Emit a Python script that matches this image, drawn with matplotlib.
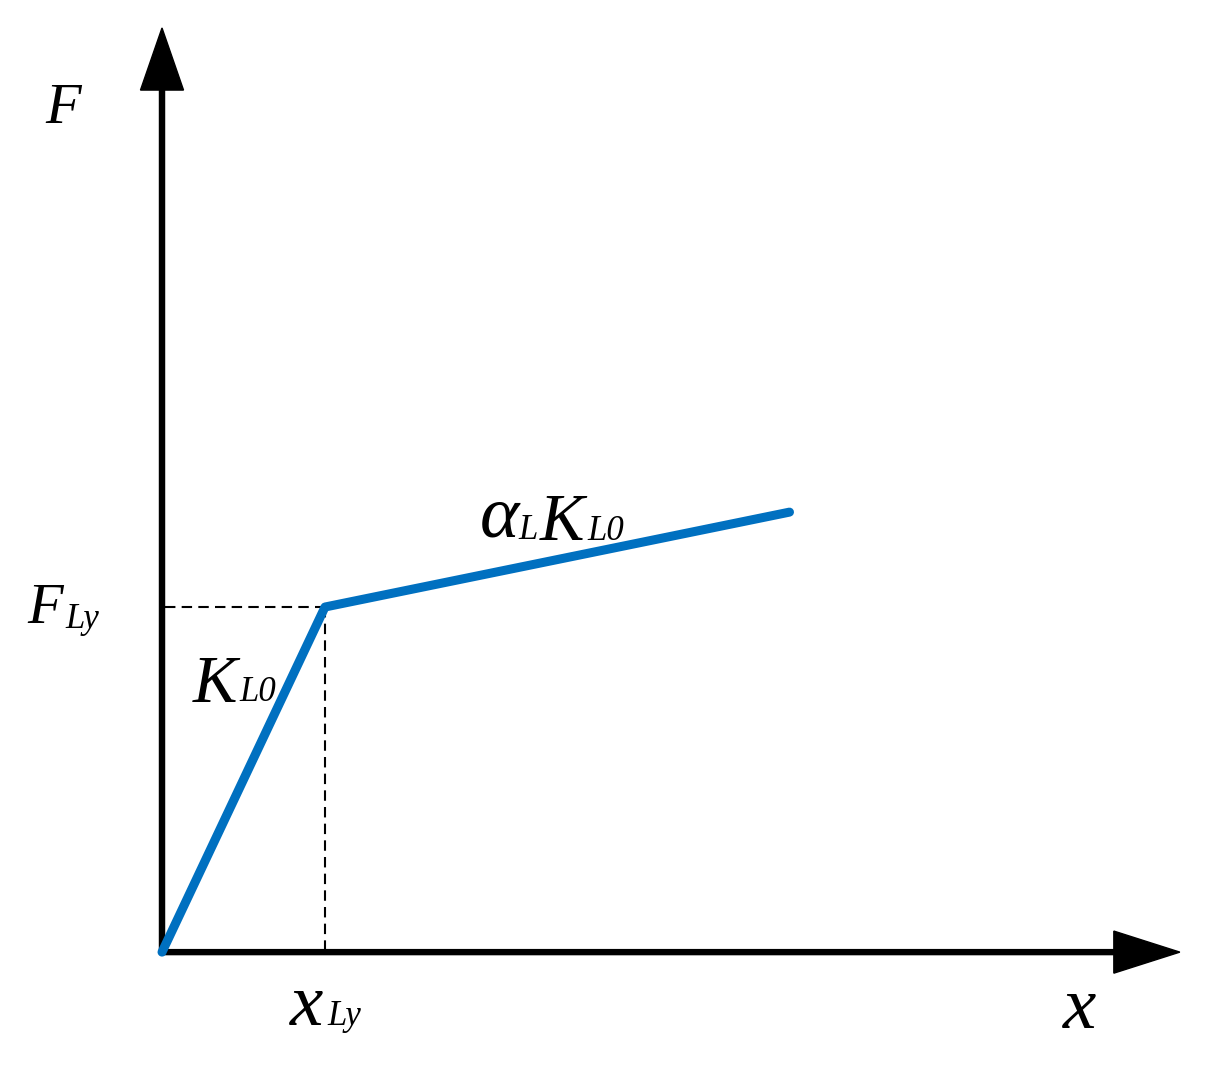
import matplotlib.pyplot as plt

# bilinear force-displacement model (x_Ly = 1, F_Ly = 1)
x_pts = [0, 1.0, 3.85]
F_pts = [0, 1.0, 1.275]
x_Ly = x_pts[1]
F_Ly = F_pts[1]

fig = plt.figure(figsize=(12.1, 10.66), dpi=100)
ax = fig.add_axes([0, 0, 1, 1])
ax.set_xlim(-0.994, 6.43)
ax.set_ylim(-0.330, 2.759)
ax.axis('off')

# axes with arrow heads
ax.arrow(0, 0, 0, 2.678, width=0.031, head_width=0.264, head_length=0.18,
         length_includes_head=True, color='black')
ax.arrow(0, 0, 6.245, 0, width=0.0145, head_width=0.122, head_length=0.405,
         length_includes_head=True, color='black')

# dashed guides to yield point
ax.plot([0.02, x_Ly], [F_Ly, F_Ly], color='black', lw=1.5, ls=(0, (5, 3)))
ax.plot([x_Ly, x_Ly], [F_Ly, 0.01], color='black', lw=1.5, ls=(0, (5, 3)))

# the curve
ax.plot(x_pts, F_pts, color='#0070C0', lw=6.5, solid_capstyle='round')

# labels (Times-like italic, subscripts drawn as separate smaller text)
t = dict(ha='left', va='baseline', color='black', family='Liberation Serif', style='italic')
ax.text(-0.718, 2.403, 'F', fontsize=42, **t)

ax.text(-0.828, 0.954, 'F', fontsize=42, **t)
ax.text(-0.595, 0.940, 'Ly', fontsize=25, **t)

ax.text(0.190, 0.725, 'K', fontsize=48, **t)
ax.text(0.472, 0.728, 'L0', fontsize=25, **t)

ax.text(1.951, 1.203, 'α', fontsize=54, **t)
ax.text(2.185, 1.196, 'L', fontsize=25, **t)
ax.text(2.320, 1.194, 'K', fontsize=48, **t)
ax.text(2.610, 1.194, 'L0', fontsize=25, **t)

ax.text(0.785, -0.212, 'x', fontsize=54, **t)
ax.text(1.012, -0.212, 'Ly', fontsize=25, **t)

ax.text(5.528, -0.220, 'x', fontsize=54, **t)

plt.savefig('out.png', dpi=100)
